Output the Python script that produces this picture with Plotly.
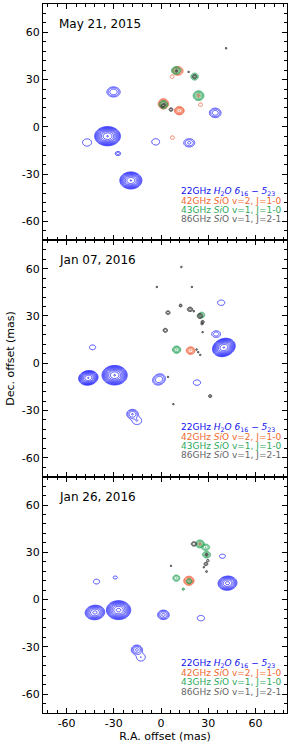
import numpy as np
import plotly.graph_objects as go
from plotly.subplots import make_subplots

# ---------------- axes / labels ----------------
X_RANGE = [-75, 80]
Y_RANGE = [-72, 78]
TICK_VALS = [-60, -30, 0, 30, 60]
TICK_TEXT = ["-60", "-30", "0", "30", "60"]
EPOCHS = ["May 21, 2015", "Jan 07, 2016", "Jan 26, 2016"]
LEGEND_TEXT = [
    "22GHz <i>H</i><sub>2</sub><i>O</i> <i>6</i><sub>16</sub> <i>−</i> <i>5</i><sub>23</sub>",
    "42GHz <i>Si</i>O v=2, J=1-0",
    "43GHz <i>Si</i>O v=1, J=1-0",
    "86GHz <i>Si</i>O v=1, J=2-1",
]

# ---------------- maser spots (panel, x, y, outer semi-axes a/b [mas], angle [deg], peak [log2 of 1st contour]) ----
# 22 GHz H2O
H2O_PANEL = [1, 1, 1, 1, 1, 1, 1, 1,
             2, 2, 2, 2, 2, 2, 2, 2, 2, 2,
             3, 3, 3, 3, 3, 3, 3, 3, 3, 3]
H2O_X = [-34.0, -19.2, -30.2, -47.0, -27.4, -3.4, 17.9, 34.4,
         -46.2, -29.5, -43.5, -18.2, -15.3, -1.3, 22.8, 35.0, 38.2, 39.9,
         -42.0, -27.0, -41.0, -29.1, -15.4, -12.8, 1.5, 25.3, 39.0, 42.2]
H2O_Y = [-5.9, -34.0, 22.2, -9.9, -16.9, -9.5, -10.1, 8.9,
         -9.3, -7.6, 10.1, -32.3, -36.5, -10.3, -12.3, 18.5, 38.4, 10.0,
         -8.2, -6.7, 11.4, 14.0, -31.9, -36.6, -9.7, -11.8, 27.5, 10.4]
H2O_A = [8.2, 7.0, 4.2, 2.85, 1.8, 2.5, 3.5, 3.7,
         6.2, 8.0, 2.0, 3.6, 3.0, 4.2, 2.3, 2.8, 2.3, 7.4,
         6.2, 7.7, 2.0, 1.4, 3.5, 2.8, 3.7, 2.3, 1.9, 6.0]
H2O_B = [6.1, 5.4, 3.2, 2.3, 1.3, 2.0, 2.6, 3.0,
         4.6, 6.2, 1.5, 3.0, 2.4, 3.4, 1.7, 2.1, 1.7, 5.6,
         4.6, 6.0, 1.5, 0.9, 3.0, 2.4, 3.0, 1.7, 1.3, 4.5]
H2O_ANG = [0, 0, 0, 0, 0, 0, 0, 0,
           10, 0, 0, 0, 0, 25, 0, 0, 0, 20,
           5, 0, 0, 0, 0, 0, 0, 0, 0, 5]
H2O_PEAK = [9.05, 8.05, 2.9, 0.8, 1.5, 0.8, 2.2, 2.7,
            8.05, 9.05, 0.8, 3.05, 1.0, 2.9, 0.8, 1.6, 0.8, 9.05,
            6.3, 8.3, 0.8, 0.8, 3.2, 1.0, 3.3, 0.8, 0.8, 6.3]
H2O_GROUP = [0, 1, 2, 3, 4, 5, 6, 7,
             0, 1, 2, 3, 3, 5, 6, 7, 8, 9,
             0, 1, 2, 3, 4, 4, 6, 7, 8, 9]

# 42 GHz SiO v=2
SIO42_PANEL = [1, 1, 1, 1, 1, 1, 1, 2, 3, 3]
SIO42_X = [1.5, 11.6, 10.6, 7.0, 7.2, 25.1, 23.8, 18.8, 17.7, 24.7]
SIO42_Y = [14.6, 10.3, 35.5, 31.9, -6.8, 14.1, 19.9, 8.0, 11.9, 35.3]
SIO42_A = [3.3, 3.1, 3.4, 1.3, 1.3, 1.3, 1.0, 2.8, 3.3, 0.9]
SIO42_B = [3.3, 2.6, 2.8, 1.1, 1.1, 1.1, 1.0, 2.4, 2.9, 0.9]
SIO42_ANG = [0, 0, 0, 0, 0, 0, 0, 0, 0, 0]
SIO42_PEAK = [5.05, 5.05, 4.05, 0.8, 0.8, 0.8, 1.5, 4.05, 5.05, 1.5]
SIO42_GROUP = list(range(10))

# 43 GHz SiO v=1
SIO43_PANEL = [1, 1, 1, 1, 2, 2, 3, 3, 3, 3, 3, 3]
SIO43_X = [9.6, 21.3, 23.8, 1.5, 9.9, 25.8, 9.7, 17.9, 14.1, 24.7, 28.3, 28.9]
SIO43_Y = [35.8, 31.9, 19.8, 14.2, 8.6, 30.6, 13.6, 11.6, 6.6, 35.3, 33.2, 28.5]
SIO43_A = [3.0, 2.4, 3.4, 2.7, 2.6, 2.0, 2.2, 1.8, 0.8, 2.8, 2.6, 2.6]
SIO43_B = [2.4, 2.2, 3.1, 2.5, 2.3, 1.8, 2.0, 1.6, 0.8, 2.5, 2.0, 2.1]
SIO43_ANG = [0] * 12
SIO43_PEAK = [4.05, 3.05, 5.05, 4.05, 4.05, 2.5, 3.05, 3.05, 2.0, 4.05, 3.05, 3.05]
SIO43_GROUP = list(range(12))

# 86 GHz SiO v=1
SIO86_PANEL = [1, 1, 1, 1, 1, 1,
               2, 2, 2, 2, 2, 2, 2, 2, 2, 2, 2, 2, 2, 2, 2, 2, 2, 2,
               3, 3, 3, 3, 3, 3, 3]
SIO86_X = [41.3, 17.5, 21.3, 6.3, 1.3, 9.8,
           12.9, -2.7, 19.6, 12.4, 4.4, 18.4, 20.8, 24.7, 26.4, 26.0, 26.4, 2.7, 22.6, 23.6, 24.9, 4.4, 31.2, 7.8,
           20.9, 28.9, 29.7, 28.5, 27.2, 28.9, 6.3]
SIO86_Y = [49.9, 34.9, 31.9, 11.0, 13.6, 35.6,
           61.1, 48.4, 48.4, 36.6, 32.1, 34.2, 33.0, 30.0, 26.2, 25.0, 19.7, 20.9, 8.7, 7.0, 5.3, -8.7, -20.9, -26.0,
           35.3, 28.5, 24.7, 22.6, 20.5, 17.8, 21.4]
SIO86_A = [0.6, 0.6, 1.4, 1.3, 1.6, 0.8,
           0.6, 0.6, 0.6, 1.0, 1.4, 1.8, 0.6, 1.8, 1.1, 0.8, 0.6, 1.5, 0.6, 0.6, 0.6, 0.6, 1.1, 0.6,
           1.8, 1.0, 0.9, 1.3, 0.6, 0.7, 0.6]
SIO86_B = [0.6, 0.6, 1.2, 1.1, 1.0, 0.7,
           0.6, 0.6, 0.6, 1.0, 1.2, 1.4, 0.6, 1.6, 1.0, 0.8, 0.6, 1.3, 0.6, 0.6, 0.6, 0.6, 1.0, 0.6,
           1.4, 1.0, 0.9, 1.1, 0.6, 0.7, 0.6]
SIO86_ANG = [0, 0, 0, 0, 45, 0] + [0] * 18 + [0] * 7
SIO86_PEAK = [2.0, 2.0, 3.0, 3.0, 3.0, 2.0,
              2.0, 2.0, 2.0, 2.5, 3.0, 3.5, 2.0, 3.5, 2.5, 2.0, 2.0, 3.0, 2.0, 2.0, 2.0, 2.0, 2.5, 2.0,
              3.0, 2.5, 2.0, 3.0, 2.0, 2.0, 2.0]
SIO86_GROUP = list(range(31))

SPECIES = [
    ("h2o", "#1010ff", H2O_PANEL, H2O_X, H2O_Y, H2O_A, H2O_B, H2O_ANG, H2O_PEAK, H2O_GROUP),
    ("sio42", "#f0603a", SIO42_PANEL, SIO42_X, SIO42_Y, SIO42_A, SIO42_B, SIO42_ANG, SIO42_PEAK, SIO42_GROUP),
    ("sio43", "#2ea85e", SIO43_PANEL, SIO43_X, SIO43_Y, SIO43_A, SIO43_B, SIO43_ANG, SIO43_PEAK, SIO43_GROUP),
    ("sio86", "#505050", SIO86_PANEL, SIO86_X, SIO86_Y, SIO86_A, SIO86_B, SIO86_ANG, SIO86_PEAK, SIO86_GROUP),
]
TEXT_COLORS = ["#1010ee", "#f06a30", "#2eaa5a", "#666666"]

FONT = "DejaVu Sans"

fig = make_subplots(rows=3, cols=1, shared_xaxes=True, vertical_spacing=0)


def spot_field(comps):
    """log2 of summed Gaussian components on a local grid."""
    R = [1.25 * max(c[2], c[3]) for c in comps]
    x0 = min(c[0] - r for c, r in zip(comps, R))
    x1 = max(c[0] + r for c, r in zip(comps, R))
    y0 = min(c[1] - r for c, r in zip(comps, R))
    y1 = max(c[1] + r for c, r in zip(comps, R))
    step = min(max(min(c[3] for c in comps) / 18.0, 0.04), 0.3)
    nx = int(np.ceil((x1 - x0) / step)) + 1
    ny = int(np.ceil((y1 - y0) / step)) + 1
    xs = np.linspace(x0, x1, nx)
    ys = np.linspace(y0, y1, ny)
    XX, YY = np.meshgrid(xs, ys)
    S = np.zeros_like(XX)
    for (cx, cy, a, b, ang, pk) in comps:
        t = np.deg2rad(ang)
        dx = XX - cx
        dy = YY - cy
        u = dx * np.cos(t) + dy * np.sin(t)
        v = -dx * np.sin(t) + dy * np.cos(t)
        rn2 = (u / a) ** 2 + (v / b) ** 2
        S += 2.0 ** (pk * (1 - rn2))
    Z = np.log2(np.maximum(S, 2.0 ** -6))
    return xs.round(3), ys.round(3), Z.round(3)


for name, color, P, X, Y, A, B, ANG, PK, G in SPECIES:
    groups = {}
    for i in range(len(P)):
        groups.setdefault((P[i], G[i]), []).append((X[i], Y[i], A[i], B[i], ANG[i], PK[i]))
    for (panel, _), comps in groups.items():
        xs, ys, Z = spot_field(comps)
        fig.add_trace(
            go.Contour(
                x=xs, y=ys, z=Z,
                autocontour=False,
                contours=dict(coloring="none", start=0, end=12, size=1),
                line=dict(color=color, width=0.75, smoothing=1),
                showscale=False, hoverinfo="skip", showlegend=False,
            ),
            row=panel, col=1,
        )

axis_common = dict(
    showline=True, linecolor="black", linewidth=1, mirror="allticks",
    ticks="inside", ticklen=5, tickwidth=1, tickcolor="black",
    tickmode="array", tickvals=TICK_VALS, ticktext=TICK_TEXT,
    minor=dict(ticks="inside", tick0=0, dtick=6, ticklen=3, tickwidth=1, tickcolor="black", showgrid=False),
    showgrid=False, zeroline=False, automargin=False,
    tickfont=dict(family=FONT, size=11, color="black"),
)

for r in range(1, 4):
    fig.update_xaxes(range=X_RANGE, showticklabels=(r == 3), row=r, col=1, **axis_common)
    fig.update_yaxes(range=Y_RANGE, row=r, col=1, **axis_common)

fig.update_xaxes(title=dict(text="R.A. offset (mas)", font=dict(family=FONT, size=11, color="black"), standoff=2), row=3, col=1)
fig.update_yaxes(title=dict(text="Dec. offset (mas)", font=dict(family=FONT, size=11, color="black"), standoff=4), row=2, col=1)

annotations = []
legend_y = [-40.8, -46.8, -52.5, -58.5]
for r in range(1, 4):
    xr = "x" if r == 1 else f"x{r}"
    yr = "y" if r == 1 else f"y{r}"
    annotations.append(dict(
        x=-66, y=65.3, xref=xr, yref=yr, text=EPOCHS[r - 1], showarrow=False,
        xanchor="left", yanchor="middle", font=dict(family=FONT, size=12, color="black"),
    ))
    for k, txt in enumerate(LEGEND_TEXT):
        annotations.append(dict(
            x=11.4, y=legend_y[k], xref=xr, yref=yr, text=txt, showarrow=False,
            xanchor="left", yanchor="middle", font=dict(family=FONT, size=9, color=TEXT_COLORS[k]),
        ))

fig.update_layout(
    width=292, height=748,
    margin=dict(l=43, r=5, t=4, b=35, autoexpand=False),
    paper_bgcolor="white", plot_bgcolor="white",
    annotations=annotations,
    showlegend=False,
    font=dict(family=FONT, size=11, color="black"),
)

fig.write_html(
    "out.html",
    config={"displayModeBar": False},
    post_script="document.body.style.margin='0';document.body.style.padding='0';document.documentElement.style.margin='0';",
)
